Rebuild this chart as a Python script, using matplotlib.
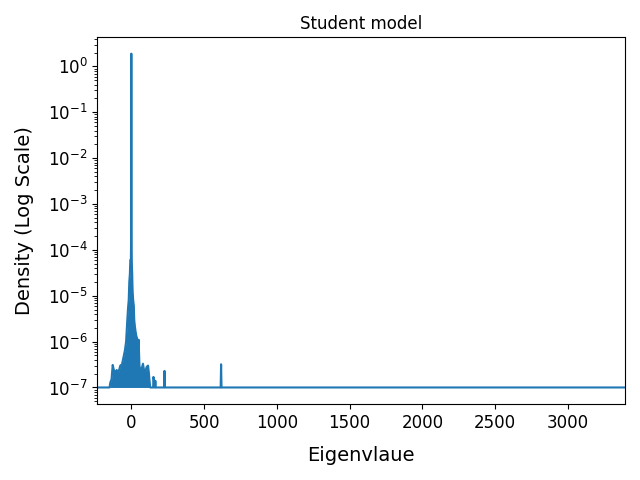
import numpy as np
import matplotlib.pyplot as plt

# eigenvalue positions and density values
eigenvalues = [-234, -150, -144, -136, -128, -120, -110, -100, -91, -84, -76,
               -64, -53, -44, -36, -30, -23, -18, -14, -10, -7, -3, -1, 0,
               1, 3, 6, 9, 13, 17, 20, 24, 30, 35, 39, 44, 50, 56, 62, 70,
               80, 88, 96, 105, 115, 121, 126, 130,
               150, 152, 155, 158, 162, 165, 168,
               225, 228, 231,
               614, 617, 620,
               3395]
density = [1e-7, 1e-7, 1.3e-7, 1.5e-7, 3.1e-7, 2.4e-7, 2.2e-7, 2.4e-7, 2.0e-7, 2.4e-7, 3.0e-7,
           3.2e-7, 4.7e-7, 6.5e-7, 1.0e-6, 2.2e-6, 5.2e-6, 8e-6, 2.0e-5, 3.0e-5, 6e-5, 6e-5, 3e-4, 1.9,
           3e-4, 5.5e-5, 3e-5, 1.2e-5, 8e-6, 6e-6, 3e-6, 2.2e-6, 1.6e-6, 1.3e-6, 1.2e-6, 4e-7, 1.1e-6, 3e-7, 2.2e-7, 2.5e-7,
           3.3e-7, 2.3e-7, 2.2e-7, 2.8e-7, 3e-7, 2e-7, 1.3e-7, 1e-7,
           1e-7, 1.7e-7, 1.5e-7, 1e-7, 1e-7, 1.4e-7, 1e-7,
           1e-7, 2.3e-7, 1e-7,
           1e-7, 3.2e-7, 1e-7,
           1e-7]

eigenvalues = np.array(eigenvalues)
density = np.array(density)

fig, ax = plt.subplots(figsize=(6.4, 4.8), dpi=100)
ax.plot(eigenvalues, density, color='C0', linewidth=1.5)
cluster = eigenvalues <= 130
ax.fill_between(eigenvalues[cluster], 1e-7, density[cluster], color='C0', linewidth=0)
ax.set_yscale('log')
ax.set_xlim(eigenvalues.min(), eigenvalues.max())
ax.set_title('Student model', fontsize=12)
ax.set_xlabel('Eigenvlaue', fontsize=14, labelpad=10)
ax.set_ylabel('Density (Log Scale)', fontsize=14, labelpad=10)
ax.tick_params(axis='both', labelsize=12)
plt.subplots_adjust(left=0.152, right=0.977, top=0.923, bottom=0.158)
plt.savefig('out.png')
